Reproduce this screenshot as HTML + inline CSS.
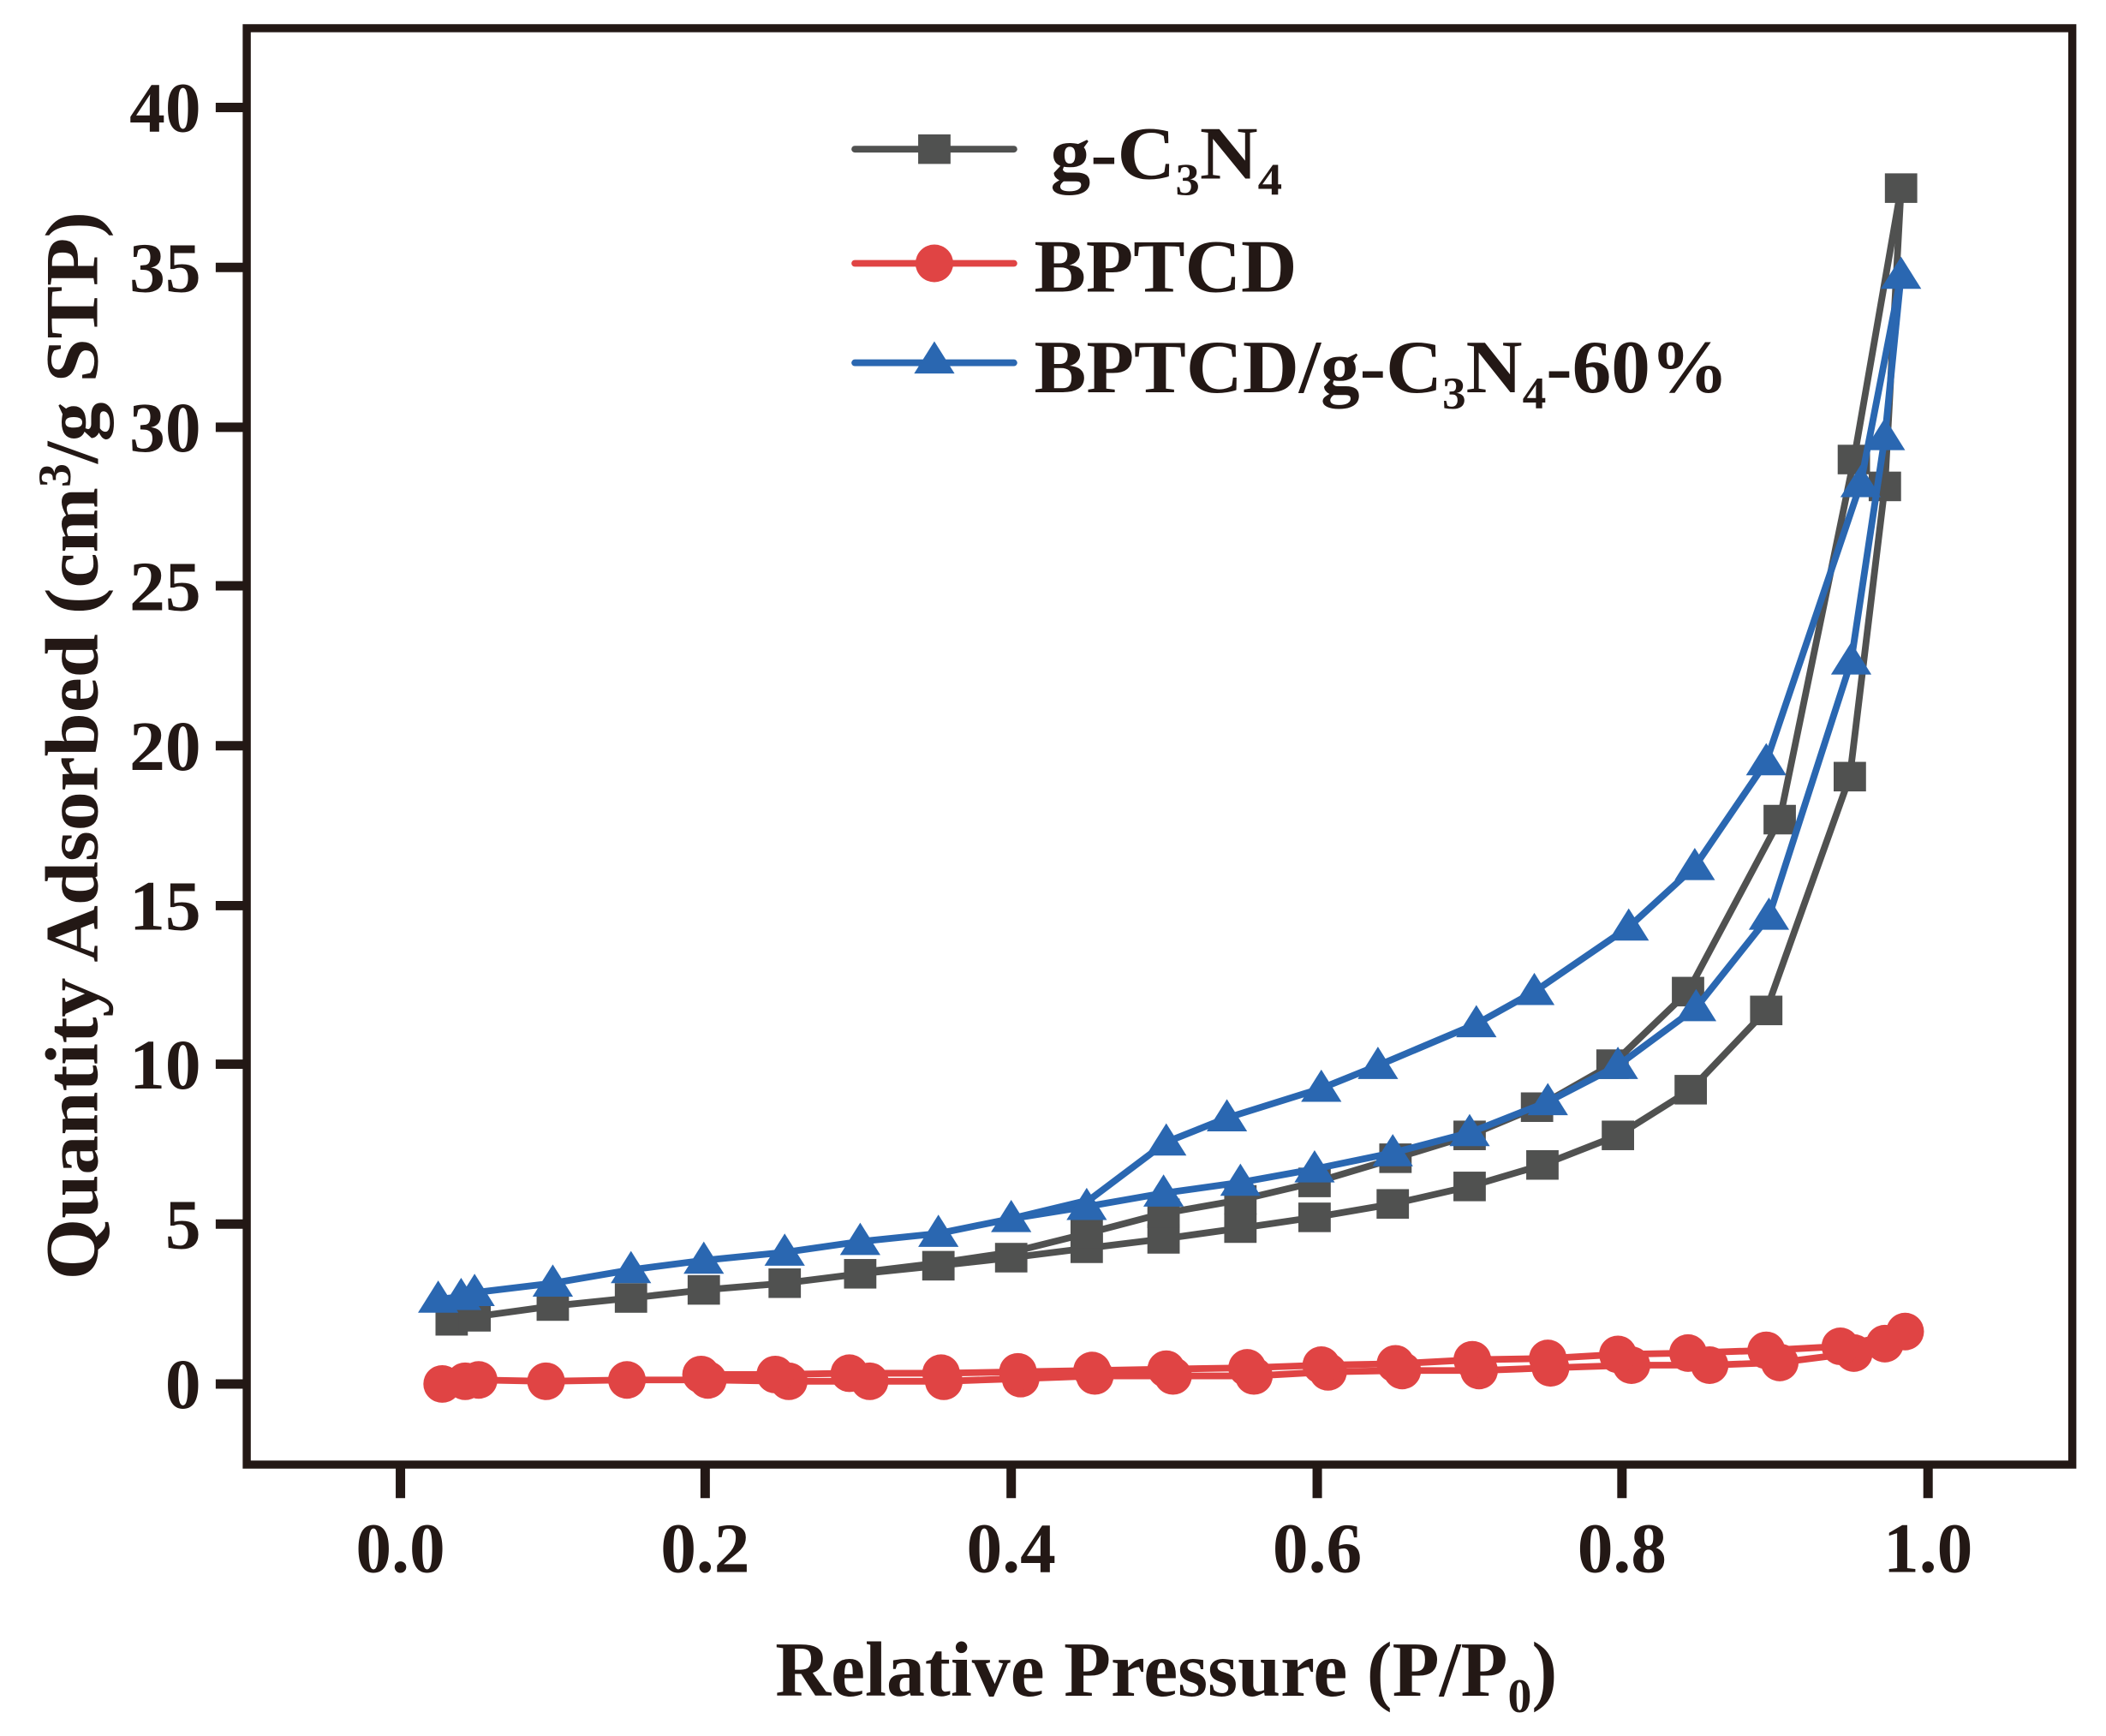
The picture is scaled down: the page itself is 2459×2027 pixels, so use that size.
<!DOCTYPE html>
<html><head><meta charset="utf-8"><style>
html,body{margin:0;padding:0;background:#fff;}
svg{display:block;}
text{font-family:"Liberation Serif",serif;font-weight:bold;fill:#231815;}
</style></head><body>
<svg width="2459" height="2027" viewBox="0 0 1562 1292" preserveAspectRatio="none" xmlns="http://www.w3.org/2000/svg">
<defs>
<rect id="sq" x="-12" y="-11" width="24" height="22" fill="#505150"/>
<circle id="ci" r="14" fill="#e04444"/>
<polygon id="tr" points="0,-14 15,10 -15,10" fill="#2a67b1"/>
</defs>
<rect width="1562" height="1292" fill="#fff"/>
<rect x="183" y="21" width="1354" height="1069" fill="none" stroke="#231815" stroke-width="6"/>
<g stroke="#231815" stroke-width="7">
<line x1="160" y1="80" x2="183" y2="80"/><line x1="160" y1="199" x2="183" y2="199"/>
<line x1="160" y1="318" x2="183" y2="318"/><line x1="160" y1="436" x2="183" y2="436"/>
<line x1="160" y1="555" x2="183" y2="555"/><line x1="160" y1="674" x2="183" y2="674"/>
<line x1="160" y1="792" x2="183" y2="792"/><line x1="160" y1="911" x2="183" y2="911"/>
<line x1="160" y1="1030" x2="183" y2="1030"/>
<line x1="297" y1="1090" x2="297" y2="1115"/><line x1="523" y1="1090" x2="523" y2="1115"/>
<line x1="750" y1="1090" x2="750" y2="1115"/><line x1="977" y1="1090" x2="977" y2="1115"/>
<line x1="1203" y1="1090" x2="1203" y2="1115"/><line x1="1430" y1="1090" x2="1430" y2="1115"/>
</g>
<g font-size="53" text-anchor="end">
<text x="149" y="98">40</text><text x="149" y="217">35</text><text x="149" y="336">30</text>
<text x="149" y="454">25</text><text x="149" y="573">20</text><text x="149" y="692">15</text>
<text x="149" y="810">10</text><text x="149" y="929">5</text><text x="149" y="1048">0</text>
</g>
<g font-size="53" text-anchor="middle">
<text x="297" y="1170">0.0</text><text x="523" y="1170">0.2</text><text x="750" y="1170">0.4</text>
<text x="977" y="1170">0.6</text><text x="1203" y="1170">0.8</text><text x="1430" y="1170">1.0</text>
</g>
<text x="865" y="1262" font-size="58" text-anchor="middle" textLength="580" lengthAdjust="spacingAndGlyphs">Relative Pressure (P/P<tspan font-size="36" dy="12">0</tspan><tspan dy="-12">)</tspan></text>
<text transform="translate(72,555) rotate(-90)" font-size="56" text-anchor="middle" textLength="795" lengthAdjust="spacingAndGlyphs">Quantity Adsorbed (cm<tspan font-size="34" dy="-20">3</tspan><tspan dy="20">/g STP)</tspan></text>

<g fill="none" stroke="#505150" stroke-width="5" stroke-linejoin="round">
<polyline points="335,983 352,980 410,972 468,966 522,960 582,955 638,948 696,942 750,936 806,929 863,922 920,914 975,906 1033,896 1090,883 1144,867 1200,845 1254,811 1310,752 1372,578 1398,362 1410,140"/>
<polyline points="1410,140 1375,342 1320,610 1252,738 1196,792 1140,824 1090,845 1035,862 975,880 920,893 863,903 806,918 750,932 696,940 638,947"/>
</g>
<g>
<use href="#sq" x="335" y="983"/><use href="#sq" x="352" y="980"/><use href="#sq" x="410" y="972"/><use href="#sq" x="468" y="966"/><use href="#sq" x="522" y="960"/><use href="#sq" x="582" y="955"/><use href="#sq" x="638" y="948"/><use href="#sq" x="696" y="942"/><use href="#sq" x="750" y="936"/><use href="#sq" x="806" y="929"/><use href="#sq" x="863" y="922"/><use href="#sq" x="920" y="914"/><use href="#sq" x="975" y="906"/><use href="#sq" x="1033" y="896"/><use href="#sq" x="1090" y="883"/><use href="#sq" x="1144" y="867"/><use href="#sq" x="1200" y="845"/><use href="#sq" x="1254" y="811"/><use href="#sq" x="1310" y="752"/><use href="#sq" x="1372" y="578"/><use href="#sq" x="1398" y="362"/><use href="#sq" x="1410" y="140"/>
<use href="#sq" x="1375" y="342"/><use href="#sq" x="1320" y="610"/><use href="#sq" x="1252" y="738"/><use href="#sq" x="1196" y="792"/><use href="#sq" x="1140" y="824"/><use href="#sq" x="1090" y="845"/><use href="#sq" x="1035" y="862"/><use href="#sq" x="975" y="880"/><use href="#sq" x="920" y="893"/><use href="#sq" x="863" y="903"/><use href="#sq" x="806" y="918"/>
</g>

<g fill="none" stroke="#2a67b1" stroke-width="5" stroke-linejoin="round">
<polyline points="325,967 342,965 352,962 410,955 468,945 522,938 582,932 638,924 696,918 750,907 806,898 863,888 920,880 975,870 1033,858 1090,843 1148,820 1200,793 1258,750 1312,682 1373,492 1398,325 1410,205"/>
<polyline points="1410,205 1380,360 1310,567 1257,645 1208,690 1138,738 1095,762 1022,793 980,810 910,832 865,850 808,893 750,907"/>
</g>
<g>
<use href="#tr" x="325" y="967"/><use href="#tr" x="342" y="965"/><use href="#tr" x="352" y="962"/><use href="#tr" x="410" y="955"/><use href="#tr" x="468" y="945"/><use href="#tr" x="522" y="938"/><use href="#tr" x="582" y="932"/><use href="#tr" x="638" y="924"/><use href="#tr" x="696" y="918"/><use href="#tr" x="750" y="907"/><use href="#tr" x="806" y="898"/><use href="#tr" x="863" y="888"/><use href="#tr" x="920" y="880"/><use href="#tr" x="975" y="870"/><use href="#tr" x="1033" y="858"/><use href="#tr" x="1090" y="843"/><use href="#tr" x="1148" y="820"/><use href="#tr" x="1200" y="793"/><use href="#tr" x="1258" y="750"/><use href="#tr" x="1312" y="682"/><use href="#tr" x="1373" y="492"/><use href="#tr" x="1398" y="325"/><use href="#tr" x="1410" y="205"/>
<use href="#tr" x="1380" y="360"/><use href="#tr" x="1310" y="567"/><use href="#tr" x="1257" y="645"/><use href="#tr" x="1208" y="690"/><use href="#tr" x="1138" y="738"/><use href="#tr" x="1095" y="762"/><use href="#tr" x="1022" y="793"/><use href="#tr" x="980" y="810"/><use href="#tr" x="910" y="832"/><use href="#tr" x="865" y="850"/>
</g>

<g fill="none" stroke="#e04444" stroke-width="5" stroke-linejoin="round">
<polyline points="328,1030 345,1028 355,1027 405,1028 465,1027 525,1027 585,1028 645,1028 700,1028 757,1026 812,1024 870,1024 930,1024 985,1021 1040,1020 1097,1020 1150,1018 1210,1016 1268,1016 1320,1014 1375,1007 1398,1000 1413,991"/>
<polyline points="1413,991 1365,1002 1310,1005 1252,1007 1200,1008 1148,1011 1092,1012 1035,1015 980,1016 925,1018 865,1019 810,1020 755,1021 698,1022 630,1022 575,1023 520,1023"/>
</g>
<g>
<use href="#ci" x="328" y="1030"/><use href="#ci" x="345" y="1028"/><use href="#ci" x="355" y="1027"/><use href="#ci" x="405" y="1028"/><use href="#ci" x="465" y="1027"/><use href="#ci" x="525" y="1027"/><use href="#ci" x="585" y="1028"/><use href="#ci" x="645" y="1028"/><use href="#ci" x="700" y="1028"/><use href="#ci" x="757" y="1026"/><use href="#ci" x="812" y="1024"/><use href="#ci" x="870" y="1024"/><use href="#ci" x="930" y="1024"/><use href="#ci" x="985" y="1021"/><use href="#ci" x="1040" y="1020"/><use href="#ci" x="1097" y="1020"/><use href="#ci" x="1150" y="1018"/><use href="#ci" x="1210" y="1016"/><use href="#ci" x="1268" y="1016"/><use href="#ci" x="1320" y="1014"/><use href="#ci" x="1375" y="1007"/><use href="#ci" x="1398" y="1000"/><use href="#ci" x="1413" y="991"/>
<use href="#ci" x="1365" y="1002"/><use href="#ci" x="1310" y="1005"/><use href="#ci" x="1252" y="1007"/><use href="#ci" x="1200" y="1008"/><use href="#ci" x="1148" y="1011"/><use href="#ci" x="1092" y="1012"/><use href="#ci" x="1035" y="1015"/><use href="#ci" x="980" y="1016"/><use href="#ci" x="925" y="1018"/><use href="#ci" x="865" y="1019"/><use href="#ci" x="810" y="1020"/><use href="#ci" x="755" y="1021"/><use href="#ci" x="698" y="1022"/><use href="#ci" x="630" y="1022"/><use href="#ci" x="575" y="1023"/><use href="#ci" x="520" y="1023"/>
</g>

<line x1="634" y1="111" x2="752" y2="111" stroke="#505150" stroke-width="5" stroke-linecap="round"/>
<use href="#sq" x="693" y="111"/>
<line x1="634" y1="196" x2="752" y2="196" stroke="#e04444" stroke-width="5" stroke-linecap="round"/>
<use href="#ci" x="693" y="196"/>
<line x1="634" y1="270" x2="752" y2="270" stroke="#2a67b1" stroke-width="5" stroke-linecap="round"/>
<use href="#tr" x="693" y="268"/>
<g font-size="56">
<text x="779" y="133" textLength="172" lengthAdjust="spacingAndGlyphs">g-C<tspan font-size="34" dy="12">3</tspan><tspan dy="-12">N</tspan><tspan font-size="34" dy="12">4</tspan></text>
<text x="767" y="217" textLength="195" lengthAdjust="spacingAndGlyphs">BPTCD</text>
<text x="767" y="292" textLength="515" lengthAdjust="spacingAndGlyphs">BPTCD/g-C<tspan font-size="34" dy="12">3</tspan><tspan dy="-12">N</tspan><tspan font-size="34" dy="12">4</tspan><tspan dy="-12">-60%</tspan></text>
</g>
</svg>
</body></html>
